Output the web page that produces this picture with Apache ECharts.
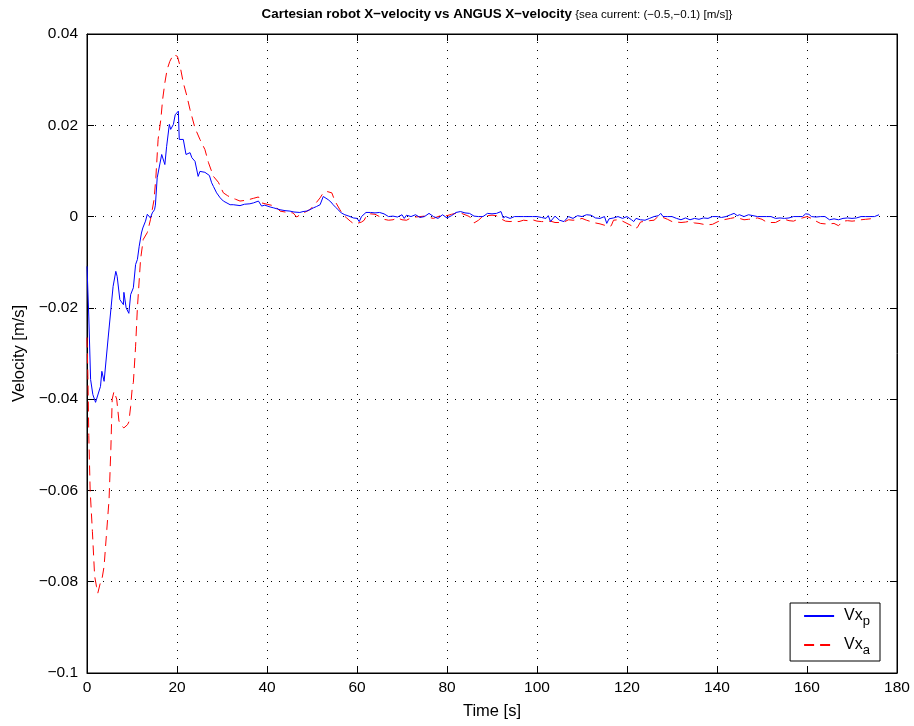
<!DOCTYPE html>
<html>
<head>
<meta charset="utf-8">
<script src="https://cdn.jsdelivr.net/npm/echarts@6/dist/echarts.min.js"></script>
<style>html,body{margin:0;padding:0;background:#fff;}#c{width:914px;height:726px;}</style>
</head>
<body>
<div id="c"></div>
<script>
// ---- data ----
const timeP = [0,0.4,0.8,1.3,1.9,2.3,3.0,3.3,3.8,4.7,5.1,5.8,6.4,6.7,7.3,8.1,8.2,8.7,9.3,9.7,10.3,10.8,11.2,11.6,12.1,12.4,13.0,13.4,14.1,14.5,15.0,15.2,15.6,16.6,17.0,17.3,17.7,18.3,18.6,19.2,19.6,20.3,20.5,21.4,22.0,22.9,23.3,24.0,24.7,25.1,26.2,27.2,27.7,28.1,28.8,29.2,29.6,30.3,30.7,31.8,32.5,34.0,35.0,36.2,37.0,38.1,38.8,39.5,40.7,41.5,42.9,44.0,45.1,46.0,47.3,48.0,48.8,49.5,50.3,51.0,51.8,52.5,52.9,53.6,54.2,54.7,55.3,55.8,56.5,57.3,58.2,59.2,60.0,60.5,61.0,62.0,63.0,64.0,65.0,66.0,67.0,68.0,69.0,70.0,70.5,71.0,72.0,73.0,74.0,75.0,76.0,77.0,78.0,79.0,80.0,81.0,82.0,83.0,84.0,85.0,86.0,87.0,88.0,89.0,90.0,91.0,92.0,92.5,93.0,94.0,95.0,96.0,97.0,98.0,99.0,100.0,101.0,102.0,102.5,103.0,104.0,105.0,106.0,107.0,108.0,109.0,110.0,111.0,112.0,113.0,114.0,115.0,115.5,116.0,117.0,118.0,119.0,120.0,121.0,121.5,122.0,123.0,124.0,125.0,126.0,127.0,127.5,128.0,129.0,130.0,131.0,132.0,133.0,134.0,135.0,136.0,137.0,138.0,139.0,140.0,141.0,142.0,143.0,143.8,144.5,145.0,146.0,147.0,148.0,149.0,150.0,151.0,152.0,153.0,154.0,155.0,156.0,157.0,158.0,159.0,159.7,160.4,161.0,162.0,163.0,164.0,165.0,166.0,167.0,168.0,169.0,170.0,171.0,172.0,173.0,174.0,175.0,176.0];
const velP = [-0.0109,-0.022,-0.0357,-0.039,-0.0407,-0.0407,-0.0372,-0.0339,-0.0361,-0.0266,-0.0266,-0.0153,-0.0120,-0.0131,-0.0182,-0.0193,-0.0166,-0.0200,-0.0212,-0.0171,-0.0156,-0.0105,-0.0094,-0.0065,-0.0036,-0.0025,-0.0010,0.0005,-0.0003,0.0008,0.0015,0.0025,0.0085,0.0136,0.0140,0.0114,0.0154,0.0202,0.0191,0.0202,0.0223,0.0231,0.0169,0.0169,0.0136,0.0140,0.0129,0.0121,0.0088,0.0099,0.0097,0.0090,0.0074,0.0066,0.0052,0.0048,0.0041,0.0034,0.0032,0.0026,0.0026,0.0024,0.0027,0.0028,0.0030,0.0034,0.0023,0.0025,0.0021,0.0019,0.0015,0.0013,0.0012,0.0010,0.0009,0.0011,0.0012,0.0015,0.0019,0.0022,0.0026,0.0044,0.0041,0.0037,0.0032,0.0026,0.0020,0.0015,0.0008,0.0004,0.0001,-0.0003,-0.0004,-0.0011,0.0000,0.0009,0.0009,0.0008,0.0009,0.0006,0.0000,0.0001,-0.0001,0.0004,-0.0004,0.0003,0.0000,0.0004,-0.0002,0.0000,0.0007,0.0000,-0.0004,0.0004,-0.0003,0.0002,0.0009,0.0011,0.0008,0.0007,0.0001,0.0000,0.0000,0.0007,0.0006,0.0007,0.0011,-0.0003,0.0000,-0.0004,0.0000,0.0000,0.0000,0.0000,0.0000,0.0000,-0.0002,-0.0004,0.0002,-0.0011,0.0001,-0.0008,-0.0011,0.0000,-0.0004,0.0002,0.0000,0.0004,0.0003,-0.0003,-0.0004,0.0000,-0.0015,-0.0005,-0.0003,0.0000,-0.0004,0.0000,-0.0007,-0.0011,-0.0004,-0.0007,-0.0008,-0.0004,0.0000,0.0002,0.0007,0.0000,0.0000,0.0000,-0.0004,-0.0007,-0.0003,-0.0007,-0.0004,-0.0006,-0.0003,-0.0004,0.0000,0.0000,-0.0002,0.0000,0.0004,0.0007,0.0002,0.0004,0.0000,0.0004,0.0002,0.0000,0.0000,0.0000,0.0000,-0.0004,-0.0003,-0.0004,-0.0003,0.0000,0.0000,0.0000,0.0006,0.0005,0.0000,-0.0001,0.0000,0.0000,-0.0007,-0.0005,-0.0007,-0.0004,-0.0003,-0.0004,-0.0003,0.0000,0.0000,0.0000,0.0000,0.0004];

const timeA = [0,0.2,0.4,0.7,1.2,1.7,2.1,2.4,2.9,3.4,3.8,4.4,4.9,5.3,5.6,6.0,6.6,7.1,7.6,8.2,9.0,9.3,9.7,10.1,10.3,10.8,11.2,11.9,12.5,13.4,14.1,14.5,14.9,15.3,15.8,16.4,16.8,17.3,17.8,18.4,19.2,19.6,20.1,20.7,21.4,22.2,22.9,24.0,25.1,26.2,27.0,28.1,29.2,30.3,31.2,32.1,33.0,34.0,35.5,37.0,38.1,38.8,40.0,41.8,42.9,44.0,45.8,46.6,47.5,48.5,49.5,50.5,51.8,52.5,53.3,54.4,55.1,56.2,57.0,57.7,58.5,59.3,60.0,61.0,61.6,62.2,63.0,64.0,65.0,66.0,67.0,68.0,69.0,70.0,71.0,72.0,73.0,74.0,75.0,76.0,77.0,78.0,79.0,80.0,81.0,82.0,83.0,84.0,85.0,86.0,87.0,88.0,89.0,90.0,91.0,92.0,93.0,94.0,95.0,96.0,97.0,98.0,99.0,100.0,101.0,102.0,103.0,104.0,105.0,106.0,107.0,108.0,109.0,110.0,111.0,112.0,113.0,114.0,115.0,115.8,116.5,117.0,118.0,119.0,120.0,121.0,121.7,122.3,123.0,124.0,125.0,126.0,127.0,128.0,129.0,130.0,131.0,132.0,133.0,134.0,135.0,136.0,137.0,138.0,139.0,140.0,141.0,142.0,143.0,144.0,145.0,146.0,147.0,148.0,149.0,150.0,151.0,152.0,153.0,154.0,155.0,156.0,157.0,158.0,159.0,160.0,161.0,162.0,163.0,164.0,165.0,166.0,167.0,168.0,169.0,170.0,171.0,172.0,173.0,174.0,175.0];
const velA = [-0.0265,-0.035,-0.048,-0.060,-0.069,-0.0788,-0.081,-0.0825,-0.0805,-0.079,-0.0766,-0.0686,-0.062,-0.051,-0.040,-0.0383,-0.040,-0.0448,-0.0458,-0.0463,-0.0456,-0.045,-0.0416,-0.037,-0.0364,-0.0284,-0.020,-0.0094,-0.005,-0.0035,-0.0007,0.0015,0.0037,0.0085,0.0169,0.0212,0.0256,0.0293,0.0322,0.0340,0.0355,0.0359,0.0351,0.0329,0.0293,0.0264,0.0234,0.0194,0.0169,0.0147,0.0118,0.0088,0.0075,0.0052,0.0046,0.0041,0.0038,0.0034,0.0036,0.0040,0.0043,0.0030,0.0027,0.0023,0.0012,0.0010,0.0008,-0.0001,0.0005,0.0010,0.0015,0.0025,0.0041,0.0052,0.0055,0.0052,0.0034,0.0015,0.0003,-0.0003,-0.0010,-0.0016,-0.0015,-0.0012,-0.0008,0.0004,0.0006,0.0005,0.0000,-0.0006,-0.0008,-0.0007,-0.0003,-0.0007,-0.0008,-0.0003,-0.0001,0.0000,0.0001,-0.0002,-0.0004,0.0000,0.0003,0.0002,0.0005,0.0007,0.0008,0.0004,0.0000,-0.0014,-0.0008,0.0001,0.0002,0.0003,0.0002,-0.0005,-0.0010,-0.0011,-0.0010,-0.0011,-0.0008,-0.0009,-0.0007,-0.0010,-0.0011,-0.0011,-0.0010,-0.0013,-0.0013,-0.0012,-0.0007,-0.0008,-0.0007,-0.0004,-0.0008,-0.0011,-0.0014,-0.0016,-0.0019,-0.0023,-0.0020,-0.0008,-0.0007,-0.0010,-0.0015,-0.0020,-0.0026,-0.0024,-0.0012,-0.0010,-0.0009,-0.0008,0.0001,-0.0002,-0.0006,-0.0011,-0.0012,-0.0013,-0.0012,-0.0010,-0.0014,-0.0015,-0.0017,-0.0018,-0.0017,-0.0012,-0.0008,-0.0006,-0.0004,-0.0002,-0.0004,-0.0007,-0.0006,-0.0005,-0.0003,-0.0006,-0.0012,-0.0013,-0.0013,-0.0008,-0.0006,-0.0009,-0.0010,-0.0006,-0.0003,0.0000,-0.0004,-0.0010,-0.0015,-0.0016,-0.0016,-0.0015,-0.0020,-0.0010,-0.0009,-0.0010,-0.0009,-0.0007,-0.0006,-0.0005,-0.0003];

const seriesNames = ['Vx_p', 'Vx_a'];
const titleMain = 'Cartesian robot X\u2212velocity vs ANGUS X\u2212velocity';
const titleSub = '{sea current: (\u22120.5,\u22120.1) [m/s]}';
const xName = 'Time [s]';
const yName = 'Velocity [m/s]';

// ---- chart ----
const FONT = "'Liberation Sans', Arial, Helvetica, sans-serif";
const zip = (a, b) => a.map((t, i) => [t, b[i]]);
const chart = echarts.init(document.getElementById('c'), null, {renderer: 'canvas'});
const fmtY = v => {
  const r = Math.round(v * 100) / 100;
  if (r === 0) return '0';
  let s = Math.abs(r).toFixed(2);
  if (s.endsWith('0')) s = s.slice(0, -1);
  return (r < 0 ? '\u2212' : '') + s;
};
const gridDash = {color: '#000', width: 1, type: [1, 7]};
const tickStyle = {show: true, inside: true, length: 7, lineStyle: {color: '#000'}};
chart.setOption({
  animation: false,
  backgroundColor: '#fff',
  title: {
    text: '{b|' + titleMain + '} {n|' + titleSub + '}',
    left: 492, top: 3, textAlign: 'center',
    textStyle: {fontFamily: FONT, fontSize: 11.6, fontWeight: 'normal', color: '#000',
      rich: {
        b: {fontFamily: FONT, fontSize: 13.4, fontWeight: 'bold', color: '#000'},
        n: {fontFamily: FONT, fontSize: 11.6, fontWeight: 'normal', color: '#000'}
      }}
  },
  grid: {left: 87, right: 17, top: 34, bottom: 53, show: true, borderColor: '#000', borderWidth: 1, containLabel: false},
  legend: {
    orient: 'vertical', right: 34, bottom: 65,
    itemWidth: 30, itemHeight: 14, itemGap: 9,
    padding: [5, 10, 4, 13],
    backgroundColor: '#fff', borderColor: '#000', borderWidth: 1,
    itemStyle: {color: 'transparent', borderWidth: 0, opacity: 0},
    data: seriesNames,
    formatter: n => '{m|Vx}{s|' + n.split('_')[1] + '}',
    textStyle: {fontFamily: FONT, color: '#000',
      rich: {
        m: {fontFamily: FONT, fontSize: 16, color: '#000', padding: [0, 0, 0, 5]},
        s: {fontFamily: FONT, fontSize: 13, color: '#000', padding: [11, 0, 0, 0]}
      }}
  },
  xAxis: [{
    type: 'value', min: 0, max: 180, interval: 20, position: 'bottom',
    name: xName, nameLocation: 'middle', nameGap: 30,
    nameTextStyle: {fontFamily: FONT, fontSize: 16.5, color: '#000'},
    axisLine: {show: true, onZero: false, lineStyle: {color: '#000'}},
    axisTick: tickStyle,
    axisLabel: {fontFamily: FONT, fontSize: 15.5, color: '#000', margin: 7},
    splitLine: {show: true, lineStyle: gridDash}
  }, {
    type: 'value', min: 0, max: 180, interval: 20, position: 'top',
    axisLine: {show: true, onZero: false, lineStyle: {color: '#000'}},
    axisTick: tickStyle,
    axisLabel: {show: false}, splitLine: {show: false}
  }],
  yAxis: [{
    type: 'value', min: -0.1, max: 0.04, interval: 0.02, position: 'left',
    name: yName, nameLocation: 'middle', nameGap: 58, nameRotate: 90,
    nameTextStyle: {fontFamily: FONT, fontSize: 16.5, color: '#000'},
    axisLine: {show: true, onZero: false, lineStyle: {color: '#000'}},
    axisTick: tickStyle,
    axisLabel: {fontFamily: FONT, fontSize: 15.5, color: '#000', margin: 9, formatter: fmtY},
    splitLine: {show: true, lineStyle: gridDash}
  }, {
    type: 'value', min: -0.1, max: 0.04, interval: 0.02, position: 'right',
    axisLine: {show: true, onZero: false, lineStyle: {color: '#000'}},
    axisTick: tickStyle,
    axisLabel: {show: false}, splitLine: {show: false}
  }],
  series: [{
    name: seriesNames[0], type: 'line', xAxisIndex: 0, yAxisIndex: 0,
    data: zip(timeP, velP), showSymbol: false, symbol: 'none',
    lineStyle: {color: '#0000ff', width: 1}, itemStyle: {color: '#0000ff'}, z: 3
  }, {
    name: seriesNames[1], type: 'line', xAxisIndex: 0, yAxisIndex: 0,
    data: zip(timeA, velA), showSymbol: false, symbol: 'none',
    lineStyle: {color: '#ff0000', width: 1, type: [10, 6]}, itemStyle: {color: '#ff0000'}, z: 2
  }]
});
</script>
</body>
</html>
